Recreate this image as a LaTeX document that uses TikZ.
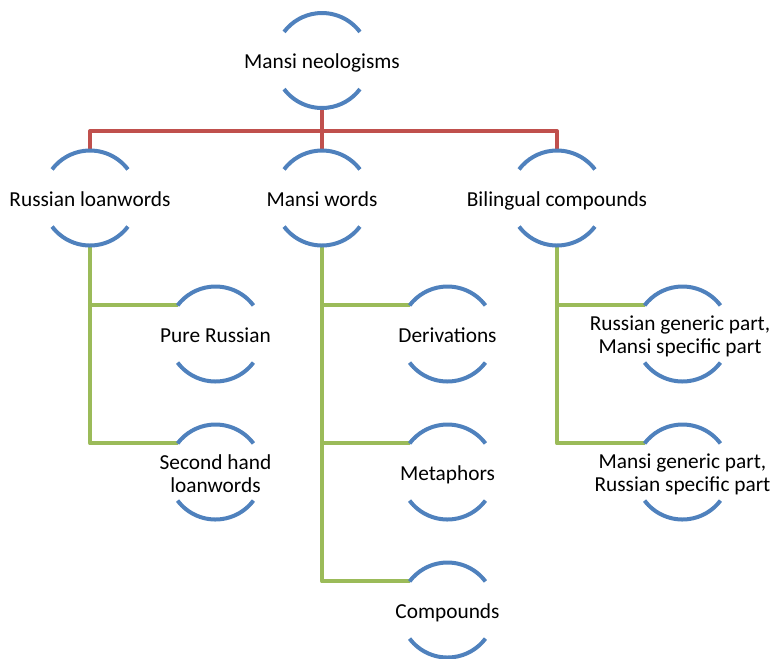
\documentclass[tikz,border=0pt]{standalone}
\usepackage{fontspec}
\setmainfont{Carlito}
\definecolor{ringblue}{HTML}{4F81BD}
\definecolor{barred}{HTML}{C0504D}
\definecolor{bargreen}{HTML}{9BBB59}
\tikzset{
  ring/.style={circle,draw=none,minimum size=71.25pt,inner sep=0pt,outer sep=0pt},
  lbl/.style={align=center,inner sep=0pt,font=\fontsize{16}{17.25}\selectfont,text=black,yshift=-1.5pt},
  lblone/.style={inner sep=0pt,font=\fontsize{16}{17.25}\selectfont,text=black,anchor=base,yshift=-6pt},
  arcline/.style={draw=ringblue,line width=3pt},
  redline/.style={draw=barred,line width=3pt,line join=round},
  greenline/.style={draw=bargreen,line width=3pt,line join=round}
}
\newcommand{\ringarcs}[1]{%
  \draw[arcline] (#1.37) arc[start angle=37,end angle=143,radius=35.625pt];
  \draw[arcline] (#1.217) arc[start angle=217,end angle=323,radius=35.625pt];
}
\begin{document}
\begin{tikzpicture}[x=0.75pt,y=-0.75pt]
\useasboundingbox (0,0) rectangle (774,658);
% rings
\node[ring] (top) at (322,60.5) {};
\node[ring] (rl) at (90,198) {};
\node[ring] (mw) at (322,198) {};
\node[ring] (bc) at (557,198) {};
\node[ring] (pr) at (215.5,334) {};
\node[ring] (sh) at (215.5,472) {};
\node[ring] (de) at (447.5,334) {};
\node[ring] (me) at (447.5,472) {};
\node[ring] (co) at (447.5,610) {};
\node[ring] (rg) at (682.5,334) {};
\node[ring] (mg) at (682.5,472) {};
% connectors
\coordinate (bar) at (322,131);
\draw[redline] (top.south) -- (mw.north);
\draw[redline] (rl.north) -- (rl.north |- bar) -- (bc.north |- bar) -- (bc.north);
\draw[greenline] (rl.south) |- (sh.143);
\draw[greenline] (rl.south |- pr.143) -- (pr.143);
\draw[greenline] (mw.south) |- (co.143);
\draw[greenline] (mw.south |- de.143) -- (de.143);
\draw[greenline] (mw.south |- me.143) -- (me.143);
\draw[greenline] (bc.south) |- (mg.143);
\draw[greenline] (bc.south |- rg.143) -- (rg.143);
% arcs
\ringarcs{top}\ringarcs{rl}\ringarcs{mw}\ringarcs{bc}
\ringarcs{pr}\ringarcs{sh}\ringarcs{de}\ringarcs{me}\ringarcs{co}
\ringarcs{rg}\ringarcs{mg}
% labels
\node[lblone] (top-t) at (top) {Mansi neologisms};
\node[lblone] (rl-t) at (rl) {Russian loanwords};
\node[lblone] (mw-t) at (mw) {Mansi words};
\node[lblone] (bc-t) at (bc) {Bilingual compounds};
\node[lblone] (pr-t) at (pr) {Pure Russian};
\node[lbl] (sh-t) at (sh) {Second hand\\loanwords};
\node[lblone] (de-t) at (de) {Derivations};
\node[lblone] (me-t) at (me) {Metaphors};
\node[lblone] (co-t) at (co) {Compounds};
\node[lbl] (rg-t) at (680,334) {Russian generic part,\\Mansi specific part};
\node[lbl] (mg-t) at (682.5,472) {Mansi generic part,\\Russian specific part};
\end{tikzpicture}
\end{document}
